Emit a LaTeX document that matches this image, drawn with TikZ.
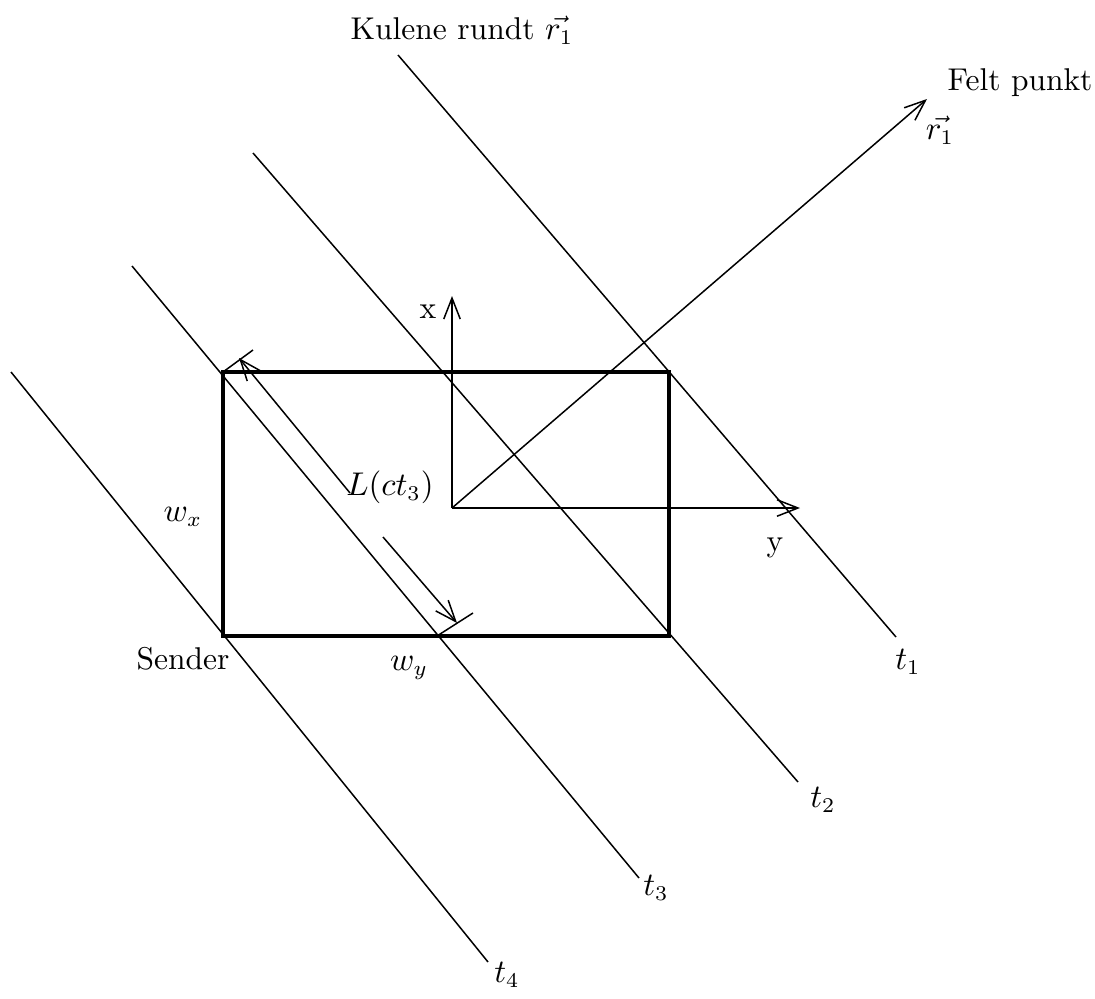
\documentclass[tikz,border=0pt]{standalone}
\usetikzlibrary{arrows.meta}
\begin{document}
\begin{tikzpicture}[x={(0.3333pt,0)},y={(0,-0.3333pt)},
  thinline/.style={line width=0.5pt},
  arr/.style={thinline,-{Straight Barb[length=7pt,width=5.5pt]}},
  box/.style={line width=1.1pt},
  lbl/.style={inner sep=0pt,font=\fontsize{10.5}{12}\selectfont}]
\useasboundingbox (0,0) rectangle (1095,999);
% rectangle
\coordinate (TL) at (223,372);
\coordinate (BR) at (669,636);
\draw[box] (TL) rectangle (BR);
% wave lines
\coordinate (a1) at (398,55);  \coordinate (b1) at (896,637);
\coordinate (a2) at (253,153); \coordinate (b2) at (798,782);
\coordinate (a3) at (132,266); \coordinate (b3) at (639,878);
\coordinate (a4) at (11,372);  \coordinate (b4) at (488,962);
\draw[thinline] (a1) -- (b1);
\draw[thinline] (a2) -- (b2);
\draw[thinline] (a3) -- (b3);
\draw[thinline] (a4) -- (b4);
% axes
\coordinate (O) at (452,508);
\coordinate (X) at (452,296);
\coordinate (Y) at (800,508);
\coordinate (R) at (927,99);
\draw[arr] (O) -- (X);
\draw[arr] (O) -- (Y);
\draw[arr] (O) -- (R);
% L arrow with ticks
\coordinate (k1a) at (223,372); \coordinate (k1b) at (253,350);
\coordinate (k2a) at (437,636); \coordinate (k2b) at (473,613);
\draw[thinline] (k1a) -- (k1b);
\draw[thinline] (k2a) -- (k2b);
\coordinate (Ltop) at (239,358);
\coordinate (Lbot) at (457,623);
\coordinate (Lg1) at (350,493);
\coordinate (Lg2) at (383,537);
\draw[arr] (Lg1) -- (Ltop);
\draw[arr] (Lg2) -- (Lbot);
% labels
\node[lbl] (kul) at (462,30) {Kulene rundt $\vec{r_1}$};
\node[lbl] (felt) at (1020,83) {Felt punkt};
\node[lbl] (r1) at (940,130) {$\vec{r_1}$};
\node[lbl] (xl) at (428,312) {x};
\node[lbl] (yl) at (775,548) {y};
\node[lbl] (wx) at (183,517) {$w_x$};
\node[lbl] (wy) at (409,668) {$w_y$};
\node[lbl] (snd) at (183,659) {Sender};
\node[lbl] (Ll) at (390,487) {$L(ct_3)$};
\node[lbl] (t1) at (908,662) {$t_1$};
\node[lbl] (t2) at (823,800) {$t_2$};
\node[lbl] (t3) at (656,888) {$t_3$};
\node[lbl] (t4) at (507,975) {$t_4$};
\end{tikzpicture}
\end{document}
